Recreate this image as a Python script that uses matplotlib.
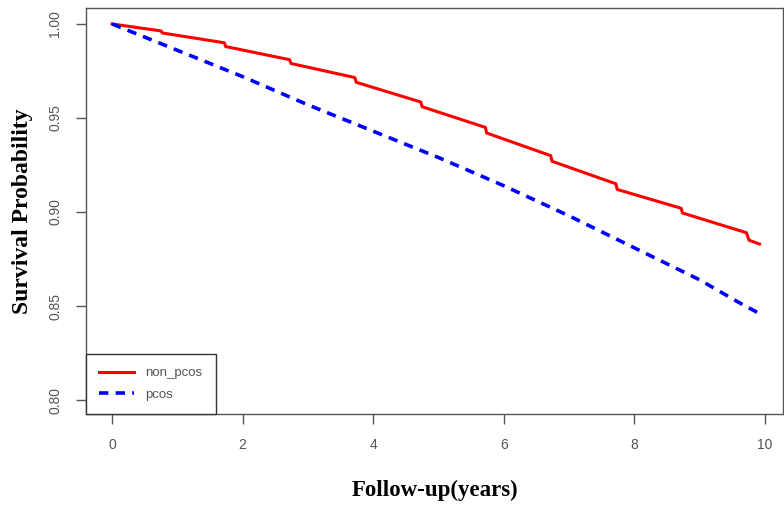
import matplotlib
matplotlib.use("Agg")
import matplotlib.pyplot as plt

# knots (time in years, survival probability)
non_pcos_t = [0.0, 0.75, 0.77, 1.72, 1.74, 2.72, 2.74, 3.72, 3.74, 4.73, 4.75,
              5.72, 5.74, 6.72, 6.74, 7.72, 7.74, 8.72, 8.74, 9.72, 9.76, 9.92]
non_pcos_s = [1.000, 0.9963, 0.9952, 0.990, 0.988, 0.981, 0.979, 0.9715, 0.969,
              0.9585, 0.956, 0.945, 0.942, 0.930, 0.927, 0.915, 0.912, 0.902,
              0.8995, 0.889, 0.885, 0.883]

pcos_t = [0.0, 1.0, 2.0, 3.0, 4.0, 5.0, 6.0, 7.0, 8.0, 9.0, 9.6, 9.92]
pcos_s = [1.000, 0.986, 0.972, 0.957, 0.943, 0.929, 0.914, 0.898, 0.881,
          0.864, 0.852, 0.846]

x_ticks = [0, 2, 4, 6, 8, 10]
y_ticks = [0.80, 0.85, 0.90, 0.95, 1.00]

fig = plt.figure(figsize=(7.84, 5.15), dpi=100)
ax = fig.add_axes([0.1097, 0.1961, 0.889, 0.7884])

ax.plot(non_pcos_t, non_pcos_s, color="#ff0000", lw=2.2, label="non_pcos")
ax.plot(pcos_t, pcos_s, color="#0000ff", lw=2.6, linestyle=(0, (2.6, 2.0)), label="pcos")

ax.set_xlim(-0.40, 10.28)
ax.set_ylim(0.7926, 1.0085)
ax.set_xticks(x_ticks)
ax.set_yticks(y_ticks)
ax.set_xticklabels([str(v) for v in x_ticks])
ax.set_yticklabels(["%.2f" % v for v in y_ticks], rotation=90, va="center")

for sp in ax.spines.values():
    sp.set_color("#555555")
    sp.set_linewidth(1.0)
ax.tick_params(direction="out", length=7, width=1.0, colors="#555555",
               labelcolor="#555555", labelsize=10, pad=10)
for lab in ax.get_xticklabels() + ax.get_yticklabels():
    lab.set_family("Liberation Sans")

ax.set_xlabel("Follow-up(years)", family="Liberation Serif", fontweight="bold",
              fontsize=16.5, labelpad=20)
ax.set_ylabel("Survival Probability", family="Liberation Serif", fontweight="bold",
              fontsize=17, labelpad=11)

leg = ax.legend(loc="lower left", bbox_to_anchor=(0, 0), borderaxespad=0,
                fancybox=False, framealpha=1, edgecolor="#333333",
                prop={"family": "Liberation Sans", "size": 9.5},
                handlelength=2.6, handletextpad=0.9, borderpad=1.0, labelspacing=0.7)
leg.get_frame().set_linewidth(1.0)
for t in leg.get_texts():
    t.set_color("#555555")

fig.savefig("out.png", dpi=100)
